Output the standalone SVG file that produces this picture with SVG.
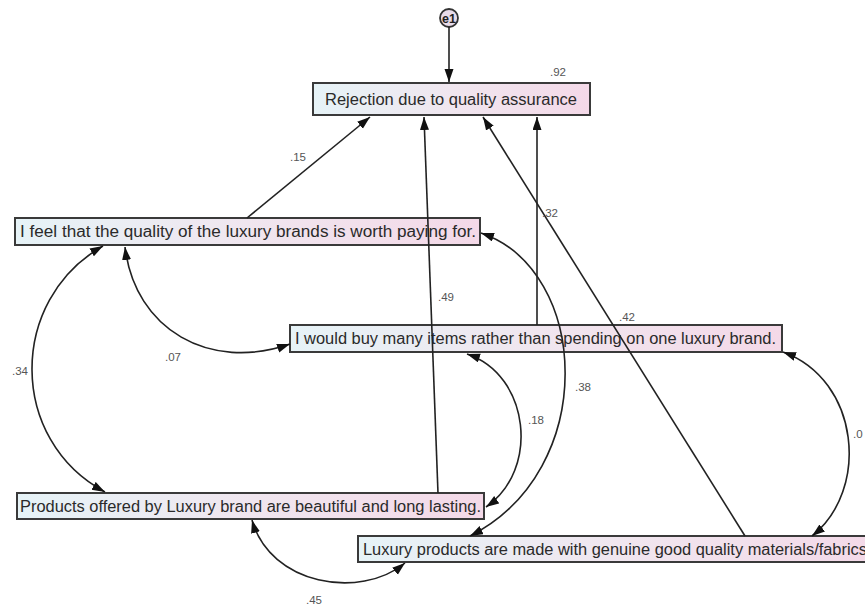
<svg xmlns="http://www.w3.org/2000/svg" width="865" height="606" viewBox="0 0 865 606">
<style>
.box{stroke:#3a3a3a;stroke-width:2;fill:url(#g)}
.t{font-family:"Liberation Sans",Arial,sans-serif;font-size:16px;fill:#2a2a2a}
.lbl{font-family:"Liberation Sans",Arial,sans-serif;font-size:11.5px;fill:#555}
.c{fill:none;stroke:#222;stroke-width:1.6;marker-end:url(#ah)}
.d{fill:none;stroke:#222;stroke-width:1.6;marker-end:url(#ah);marker-start:url(#ah)}
</style>
<defs>
<linearGradient id="g" x1="0" y1="0" x2="1" y2="0">
<stop offset="0" stop-color="#e6f3f7"/>
<stop offset="0.5" stop-color="#f0e6ef"/>
<stop offset="1" stop-color="#f4d9e8"/>
</linearGradient>
<marker id="ah" markerUnits="userSpaceOnUse" markerWidth="14" markerHeight="10" refX="13" refY="4.5" orient="auto-start-reverse">
<path d="M0,0 L13,4.5 L0,9 z" fill="#111"/>
</marker>
</defs>
<rect width="865" height="606" fill="#fff"/>
<g id="e1">
<circle cx="449" cy="18" r="9" fill="#e9dcea" stroke="#333" stroke-width="1.8"/>
<text x="449" y="22.5" text-anchor="middle" style="font-family:'Liberation Sans',Arial,sans-serif;font-size:12.5px;font-weight:bold;fill:#222">e1</text>
</g>
<g id="n-rejection">
<rect class="box" x="313" y="83" width="277" height="32"/>
<text class="t" x="325" y="105" textLength="252" lengthAdjust="spacingAndGlyphs">Rejection due to quality assurance</text>
</g>
<g id="n-feel">
<rect class="box" x="15" y="218" width="465" height="27"/>
<text class="t" x="20" y="237" textLength="456" lengthAdjust="spacingAndGlyphs">I feel that the quality of the luxury brands is worth paying for.</text>
</g>
<g id="n-buy">
<rect class="box" x="290" y="325" width="492" height="27"/>
<text class="t" x="295" y="344" textLength="481" lengthAdjust="spacingAndGlyphs">I would buy many items rather than spending on one luxury brand.</text>
</g>
<g id="n-products">
<rect class="box" x="17" y="493" width="467" height="26"/>
<text class="t" x="20" y="512" textLength="461" lengthAdjust="spacingAndGlyphs">Products offered by Luxury brand are beautiful and long lasting.</text>
</g>
<g id="n-luxury">
<rect class="box" x="358" y="536" width="520" height="26"/>
<text class="t" x="363" y="555" textLength="504" lengthAdjust="spacingAndGlyphs">Luxury products are made with genuine good quality materials/fabrics</text>
</g>
<g id="connectors">
<line class="c" x1="449" y1="27" x2="449" y2="82"/>
<line class="c" x1="247" y1="218" x2="370" y2="117"/>
<line class="c" x1="438" y1="493" x2="424" y2="117"/>
<line class="c" x1="537" y1="325" x2="537" y2="117"/>
<line class="c" x1="745" y1="536" x2="483" y2="117"/>
<path class="d" d="M103,246 C 8,300 8,440 105,492"/>
<path class="d" d="M125,247 C 135,330 210,372 290,344"/>
<path class="d" d="M467,354 C 530,375 540,470 486,507"/>
<path class="d" d="M481,233 C 590,270 600,470 470,536"/>
<path class="d" d="M252,520 C 270,585 360,600 405,563"/>
<path class="d" d="M783,352 C 860,380 870,490 812,536"/>
</g>
<g id="labels">
<text class="lbl" x="550" y="76">.92</text>
<text class="lbl" x="290" y="161">.15</text>
<text class="lbl" x="542" y="217">.32</text>
<text class="lbl" x="438" y="301">.49</text>
<text class="lbl" x="619" y="321">.42</text>
<text class="lbl" x="165" y="361">.07</text>
<text class="lbl" x="12" y="375">.34</text>
<text class="lbl" x="528" y="424">.18</text>
<text class="lbl" x="575" y="391">.38</text>
<text class="lbl" x="306" y="604">.45</text>
<text class="lbl" x="853" y="438">.0</text>
</g>
</svg>
